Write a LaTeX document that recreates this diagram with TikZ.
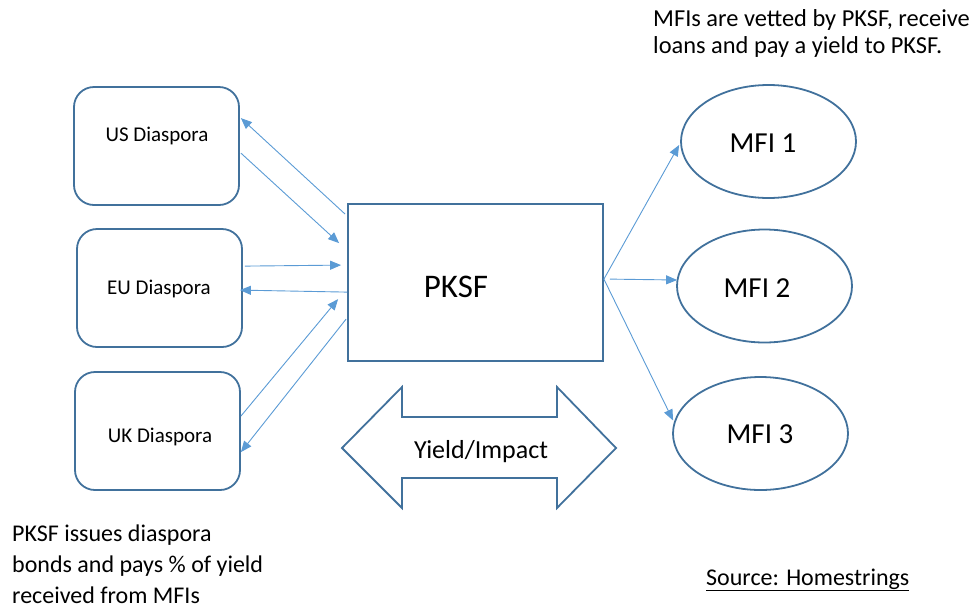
\documentclass[tikz,border=0pt]{standalone}
\usepackage{fontspec}
\setmainfont{Carlito}
\usetikzlibrary{shapes.geometric,arrows.meta}
\definecolor{boxblue}{HTML}{41719C}
\definecolor{arrowblue}{HTML}{5B9BD5}
\tikzset{
  dbox/.style={draw=boxblue,line width=1.8pt,rounded corners=20pt,minimum width=165pt,minimum height=118pt,inner sep=0pt},
  pbox/.style={draw=boxblue,line width=1.8pt,minimum width=255pt,minimum height=157pt,inner sep=0pt},
  mfi/.style={draw=boxblue,line width=1.8pt,ellipse,minimum width=175pt,minimum height=113pt,inner sep=0pt},
  mfitext/.style={inner sep=0pt,font=\fontsize{29}{33}\selectfont},
  conn/.style={draw=arrowblue,line width=0.9pt,-{Triangle[length=11pt,width=9pt]}},
  lbl/.style={inner sep=0pt,font=\fontsize{21}{25}\selectfont},
}
\begin{document}
\begin{tikzpicture}[x=1pt,y=-1pt]
\useasboundingbox (0,0) rectangle (973,611);
% boxes
\node[dbox] (us) at (156.5,146) {};
\node[dbox] (eu) at (159.5,288) {};
\node[dbox] (uk) at (157.5,431) {};
\node[lbl] (ust) at (157,136) {US Diaspora};
\node[lbl] (eut) at (159,289) {EU Diaspora};
\node[lbl] (ukt) at (160,437) {UK Diaspora};
\node[pbox] (pksf) at (475.5,282.5) {};
\node[inner sep=0pt,font=\fontsize{33}{37}\selectfont] (pksft) at (456,287) {PKSF};
\node[mfi] (m1) at (768.5,141.5) {};
\node[mfi] (m2) at (764.5,286) {};
\node[mfi] (m3) at (760.5,433.5) {};
\node[mfitext] (m1t) at (763,143) {MFI 1};
\node[mfitext] (m2t) at (757,288) {MFI 2};
\node[mfitext] (m3t) at (760,434) {MFI 3};
% double arrow
\draw[draw=boxblue,line width=1.8pt,line join=miter]
  (342,448) -- (402,387) -- (402,417) -- (557,417) -- (557,387) -- (616,448)
  -- (557,508) -- (557,478) -- (402,478) -- (402,508) -- cycle;
\node[inner sep=0pt,font=\fontsize{26}{30}\selectfont] (yi) at (481,452) {Yield/Impact};
% diaspora connectors
\draw[conn] ([shift={(-2,11)}]pksf.north west) -- ([shift={(1,32)}]us.north east);
\draw[conn] ([shift={(1,67)}]us.north east) -- ([shift={(-8,40)}]pksf.north west);
\draw[conn] ([shift={(2,38)}]eu.north east) -- ([shift={(-6,62)}]pksf.north west);
\draw[conn] ([shift={(0,89)}]pksf.north west) -- ([shift={(-3,62)}]eu.north east);
\draw[conn] ([shift={(0,45)}]uk.north east) -- ([shift={(-9,96)}]pksf.north west);
\draw[conn] ([shift={(-1,116)}]pksf.north west) -- ([shift={(0,81)}]uk.north east);
% MFI connectors
\draw[conn] ([shift={(0,76)}]pksf.north east) -- ([shift={(-1,3.5)}]m1.west);
\draw[conn] ([shift={(6,76)}]pksf.north east) -- ([shift={(1,-6)}]m2.west);
\draw[conn] ([shift={(0,76)}]pksf.north east) -- ([shift={(1,-13)}]m3.west);
% texts
\node[anchor=north west,inner sep=0pt,align=left,font=\fontsize{24.4}{27}\selectfont] (toptext) at (653,9)
  {MFIs are vetted by PKSF, receive\\loans and pay a yield to PKSF.};
\node[anchor=north west,inner sep=0pt,align=left,font=\fontsize{24}{31}\selectfont] (bottext) at (12,525)
  {PKSF issues diaspora\\bonds and pays \% of yield\\received from MFIs};
\node[anchor=base west,inner sep=0pt,font=\fontsize{24}{28}\selectfont] (src) at (706,585)
  {\underline{Source: Homestrings}};
\end{tikzpicture}
\end{document}
